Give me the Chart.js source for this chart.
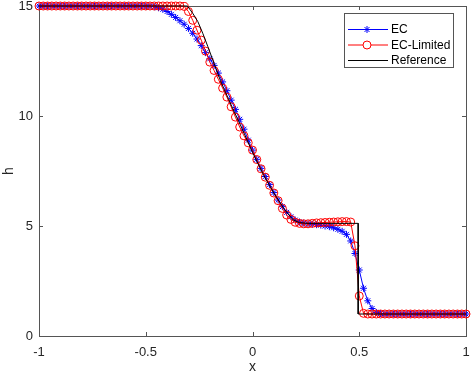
<!DOCTYPE html>
<html>
<head>
<meta charset="utf-8">
<script src="https://cdn.jsdelivr.net/npm/chart.js@4.4.1/dist/chart.umd.min.js"></script>
<style>
body { margin: 0; background: #fff; }
#wrap { width: 472px; height: 376px; }
</style>
</head>
<body>
<div id="wrap"><canvas id="c" width="472" height="376"></canvas></div>
<script>
// sample positions of the numerical solutions
const xGrid = [
  -1, -0.98, -0.96, -0.94, -0.92, -0.9, -0.88, -0.86, -0.84, -0.82,
  -0.8, -0.78, -0.76, -0.74, -0.72, -0.7, -0.68, -0.66, -0.64, -0.62,
  -0.6, -0.58, -0.56, -0.54, -0.52, -0.5, -0.48, -0.46, -0.44, -0.42,
  -0.4, -0.38, -0.36, -0.34, -0.32, -0.3, -0.28, -0.26, -0.24, -0.22,
  -0.2, -0.18, -0.16, -0.14, -0.12, -0.1, -0.08, -0.06, -0.04, -0.02,
  0, 0.02, 0.04, 0.06, 0.08, 0.1, 0.12, 0.14, 0.16, 0.18,
  0.2, 0.22, 0.24, 0.26, 0.28, 0.3, 0.32, 0.34, 0.36, 0.38,
  0.4, 0.42, 0.44, 0.46, 0.48, 0.5, 0.52, 0.54, 0.56, 0.58,
  0.6, 0.62, 0.64, 0.66, 0.68, 0.7, 0.72, 0.74, 0.76, 0.78,
  0.8, 0.82, 0.84, 0.86, 0.88, 0.9, 0.92, 0.94, 0.96, 0.98, 1
];

// EC (blue stars)
const hEC = [
  15, 15, 15, 15, 15, 15, 15, 15, 15, 15,
  15, 15, 15, 15, 15, 15, 15, 15, 15, 15,
  15, 15, 15, 15, 15, 15, 14.99, 14.97, 14.92, 14.85,
  14.75, 14.62, 14.48, 14.33, 14.17, 13.98, 13.76, 13.5, 13.2, 12.88,
  12.6, 12.3, 11.95, 11.55, 11.15, 10.72, 10.3, 9.85, 9.4, 8.9,
  8.45, 8.03, 7.62, 7.25, 6.88, 6.52, 6.18, 5.88, 5.62, 5.42,
  5.27, 5.18, 5.13, 5.1, 5.08, 5.06, 5.04, 5.0, 4.97, 4.92,
  4.85, 4.76, 4.62, 4.32, 3.75, 3.0, 2.17, 1.6, 1.25, 1.07,
  1.02, 1, 1, 1, 1, 1, 1, 1, 1, 1,
  1, 1, 1, 1, 1, 1, 1, 1, 1, 1, 1
];

// EC-Limited (red circles)
const hLimited = [
  15, 15, 15, 15, 15, 15, 15, 15, 15, 15,
  15, 15, 15, 15, 15, 15, 15, 15, 15, 15,
  15, 15, 15, 15, 15, 15, 15, 15, 15, 15,
  15, 15, 15, 15, 14.98, 14.75, 14.35, 13.9, 13.45, 12.95,
  12.45, 12.07, 11.67, 11.27, 10.86, 10.42, 9.95, 9.5, 9.1, 8.78,
  8.45, 8.02, 7.6, 7.22, 6.85, 6.5, 6.15, 5.8, 5.5, 5.3,
  5.17, 5.12, 5.1, 5.1, 5.12, 5.14, 5.15, 5.16, 5.17, 5.18,
  5.19, 5.2, 5.2, 5.18, 4.1, 1.82, 1.03, 1, 1, 1,
  1, 1, 1, 1, 1, 1, 1, 1, 1, 1,
  1, 1, 1, 1, 1, 1, 1, 1, 1, 1, 1
];

// reference solution (black line)
const refX = [-1, -0.305, -0.28, -0.256, -0.233, -0.209, -0.186, -0.15, -0.1, -0.05, 0, 0.05, 0.1, 0.15, 0.19, 0.22, 0.26, 0.495, 0.495, 1];
const refH = [15, 15, 14.67, 14.29, 13.76, 13.15, 12.55, 11.6, 10.5, 9.45, 8.35, 7.35, 6.5, 5.75, 5.28, 5.15, 5.12, 5.12, 1, 1];

const xTicks = [-1, -0.5, 0, 0.5, 1];
const yTicks = [0, 5, 10, 15];
const seriesNames = ['EC', 'EC-Limited', 'Reference'];

const axisColor = '#555555';
const textColor = '#262626';
const fontFam = '"Liberation Sans", Arial, Helvetica, sans-serif';

function pts(xs, ys) {
  return xs.map((x, i) => ({ x: x, y: ys[i] }));
}

function noPad(s) {
  s.paddingTop = 0; s.paddingBottom = 0;
  s.paddingLeft = 0; s.paddingRight = 0;
}

// box + inward ticks, MATLAB style
const framePlugin = {
  id: 'frame',
  beforeDatasetsDraw(chart) {
    const { ctx, chartArea: a, scales } = chart;
    const tl = 4;
    ctx.save();
    ctx.strokeStyle = axisColor;
    ctx.lineWidth = 1;
    ctx.strokeRect(a.left + 0.5, a.top + 0.5, a.right - a.left, a.bottom - a.top);
    ctx.beginPath();
    xTicks.forEach(v => {
      const px = Math.round(scales.x.getPixelForValue(v)) + 0.5;
      ctx.moveTo(px, a.bottom); ctx.lineTo(px, a.bottom - tl);
      ctx.moveTo(px, a.top); ctx.lineTo(px, a.top + tl);
    });
    yTicks.forEach(v => {
      const py = Math.round(scales.y.getPixelForValue(v)) + 0.5;
      ctx.moveTo(a.left, py); ctx.lineTo(a.left + tl, py);
      ctx.moveTo(a.right, py); ctx.lineTo(a.right - tl, py);
    });
    ctx.stroke();
    ctx.restore();
  }
};

// legend box in the upper right corner
const legendPlugin = {
  id: 'matLegend',
  afterDraw(chart) {
    const { ctx } = chart;
    const ds = chart.data.datasets;
    const box = { x: 344.5, y: 13.5, w: 109, h: 54 };
    const rowY = [29, 44.5, 60];
    ctx.save();
    ctx.fillStyle = '#fff';
    ctx.fillRect(box.x, box.y, box.w, box.h);
    ctx.strokeStyle = axisColor;
    ctx.lineWidth = 1;
    ctx.strokeRect(box.x, box.y, box.w, box.h);
    const order = [2, 1, 0];
    order.forEach((di, r) => {
      const d = ds[di];
      const y = rowY[r];
      ctx.strokeStyle = d.borderColor;
      ctx.lineWidth = 1;
      ctx.beginPath();
      ctx.moveTo(348, y + 0.5); ctx.lineTo(388, y + 0.5);
      ctx.stroke();
      if (d.pointRadius > 0) {
        ctx.fillStyle = '#ffffff';
        Chart.helpers.drawPoint(ctx, {
          pointStyle: d.pointStyle, radius: d.pointRadius, borderWidth: 1, rotation: 0
        }, 367, y + 0.5);
      }
      ctx.fillStyle = '#000';
      ctx.font = '12px ' + fontFam;
      ctx.textBaseline = 'middle';
      ctx.textAlign = 'left';
      ctx.fillText(d.label, 391, y + 1);
    });
    ctx.restore();
  }
};

new Chart(document.getElementById('c'), {
  type: 'line',
  data: {
    datasets: [
      {
        label: seriesNames[2],
        data: pts(refX, refH),
        borderColor: '#000000',
        borderWidth: 1,
        pointRadius: 0,
        tension: 0,
        clip: false
      },
      {
        label: seriesNames[1],
        data: pts(xGrid, hLimited),
        borderColor: '#ff0000',
        backgroundColor: 'rgba(0,0,0,0)',
        borderWidth: 1,
        pointStyle: 'circle',
        pointRadius: 4,
        pointBorderColor: '#ff0000',
        pointBackgroundColor: 'rgba(0,0,0,0)',
        pointBorderWidth: 1,
        tension: 0,
        clip: false
      },
      {
        label: seriesNames[0],
        data: pts(xGrid, hEC),
        borderColor: '#0000ff',
        backgroundColor: 'rgba(0,0,0,0)',
        borderWidth: 1,
        pointStyle: 'star',
        pointRadius: 3.5,
        pointBorderColor: '#0000ff',
        pointBackgroundColor: 'rgba(0,0,0,0)',
        pointBorderWidth: 1,
        tension: 0,
        clip: false
      }
    ]
  },
  options: {
    responsive: false,
    devicePixelRatio: 1,
    animation: false,
    layout: { padding: { top: 6, right: 6, left: 0, bottom: 0 } },
    plugins: {
      legend: { display: false },
      tooltip: { enabled: false }
    },
    scales: {
      x: {
        type: 'linear',
        min: -1,
        max: 1,
        grid: { display: false, drawTicks: false },
        border: { display: false },
        afterBuildTicks: s => { s.ticks = xTicks.map(v => ({ value: v })); },
        afterFit: s => { s.height = 40; noPad(s); },
        ticks: {
          padding: 9,
          maxRotation: 0,
          color: textColor,
          font: { family: fontFam, size: 13 },
          callback: v => String(v)
        },
        title: {
          display: true,
          text: 'x',
          color: textColor,
          font: { family: fontFam, size: 14 },
          padding: { top: 0, bottom: 0 }
        }
      },
      y: {
        type: 'linear',
        min: 0,
        max: 15,
        grid: { display: false, drawTicks: false },
        border: { display: false },
        afterBuildTicks: s => { s.ticks = yTicks.map(v => ({ value: v })); },
        afterFit: s => { s.width = 39; noPad(s); },
        ticks: {
          padding: 6,
          color: textColor,
          font: { family: fontFam, size: 13 },
          callback: v => String(v)
        },
        title: {
          display: true,
          text: 'h',
          color: textColor,
          font: { family: fontFam, size: 14 },
          padding: { top: 1, bottom: 0 }
        }
      }
    }
  },
  plugins: [framePlugin, legendPlugin]
});
</script>
</body>
</html>
